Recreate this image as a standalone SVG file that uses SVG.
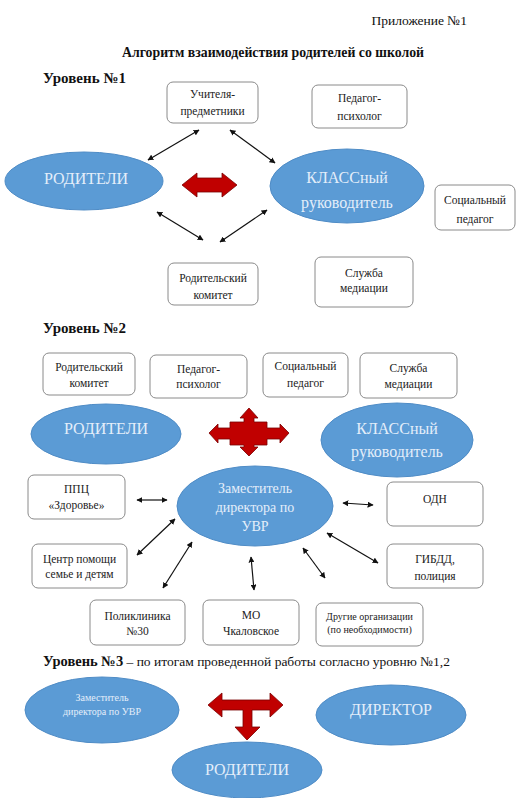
<svg xmlns="http://www.w3.org/2000/svg" width="516" height="798" viewBox="0 0 516 798">
<defs>
<marker id="ah" viewBox="0 0 10 10" refX="9" refY="5" markerWidth="6" markerHeight="6" orient="auto-start-reverse" markerUnits="userSpaceOnUse">
<path d="M0,0 L10,5 L0,10 z" fill="#111"/>
</marker>
</defs>
<style>
text{font-family:"Liberation Serif","DejaVu Serif","Times New Roman",serif;}
.box rect{fill:#fff;stroke:#8a8a8a;stroke-width:1;}
.box text{font-size:11.5px;fill:#222;text-anchor:middle;}
.ell ellipse{fill:#5b9bd5;stroke:#4f8cc6;stroke-width:1;}
.ell text{fill:#e4eefa;text-anchor:middle;}
.conn line{stroke:#111;stroke-width:1.2;marker-start:url(#ah);marker-end:url(#ah);}
.red{fill:#c00000;stroke:#7a0000;stroke-width:0.8;}
.hdr{font-size:15px;font-weight:bold;fill:#111;}
</style>
<rect width="516" height="798" fill="#fff"/>

<text x="467" y="25" font-size="13.5" text-anchor="end" fill="#111">Приложение №1</text>
<text x="273" y="57" font-size="13.8" font-weight="bold" text-anchor="middle" fill="#111">Алгоритм взаимодействия родителей со школой</text>

<!-- Level 1 -->
<text class="hdr" x="43" y="83">Уровень №1</text>
<g id="l1-uchitelya" class="box"><rect x="167" y="82" width="91" height="41" rx="6"/><text x="212.5" y="98">Учителя-</text><text x="212.5" y="115">предметники</text></g>
<g id="l1-psiholog" class="box"><rect x="312" y="85" width="95" height="43" rx="6"/><text x="359.5" y="102">Педагог-</text><text x="359.5" y="120">психолог</text></g>
<g id="l1-socped" class="box"><rect x="435" y="185" width="80" height="45" rx="6"/><text x="475" y="204">Социальный</text><text x="475" y="223">педагог</text></g>
<g id="l1-rodkom" class="box"><rect x="168" y="263" width="90" height="42" rx="6"/><text x="213" y="282">Родительский</text><text x="213" y="299">комитет</text></g>
<g id="l1-mediacia" class="box"><rect x="315" y="257" width="98" height="50" rx="6"/><text x="364" y="277">Служба</text><text x="364" y="292">медиации</text></g>
<g id="l1-roditeli" class="ell"><ellipse cx="84" cy="181" rx="79" ry="29"/><text x="86" y="184" font-size="16">РОДИТЕЛИ</text></g>
<g id="l1-klass" class="ell"><ellipse cx="347" cy="186" rx="77" ry="37"/><text x="347" y="183" font-size="16">КЛАССный</text><text x="347" y="208" font-size="16">руководитель</text></g>
<g id="l1-redarrow"><polygon class="red" points="182,185 197,173 197,178 222,178 222,173 237,185 222,197 222,192 197,192 197,197"/></g>

<!-- Level 2 -->
<text class="hdr" x="43" y="333">Уровень №2</text>
<g id="l2-rodkom" class="box"><rect x="43" y="353" width="92" height="42" rx="6"/><text x="89" y="371">Родительский</text><text x="89" y="387">комитет</text></g>
<g id="l2-psiholog" class="box"><rect x="150" y="355" width="97" height="43" rx="6"/><text x="198.5" y="373">Педагог-</text><text x="198.5" y="388">психолог</text></g>
<g id="l2-socped" class="box"><rect x="263" y="353" width="85" height="44" rx="6"/><text x="305.5" y="370">Социальный</text><text x="305.5" y="387">педагог</text></g>
<g id="l2-mediacia" class="box"><rect x="360" y="353" width="97" height="45" rx="6"/><text x="408.5" y="372">Служба</text><text x="408.5" y="388">медиации</text></g>
<g id="l2-roditeli" class="ell"><ellipse cx="106" cy="434" rx="75" ry="30"/><text x="106" y="434" font-size="16">РОДИТЕЛИ</text></g>
<g id="l2-klass" class="ell"><ellipse cx="397" cy="440" rx="76" ry="37"/><text x="397" y="434" font-size="16">КЛАССный</text><text x="397" y="457" font-size="16">руководитель</text></g>
<g id="l2-redarrow"><polygon class="red" points="209,433 218,424 218,428 230,428 230,422 244,422 244,418 240,418 249,408 258,418 254,418 254,422 267,422 267,428 280,428 280,424 289,433 280,443 280,439 267,439 267,445 254,445 254,447 258,447 249,456 240,447 244,447 244,445 230,445 230,439 218,439 218,443"/></g>
<g id="l2-zam" class="ell"><ellipse cx="255" cy="506" rx="78" ry="40"/><text x="255" y="493" font-size="14">Заместитель</text><text x="255" y="512" font-size="14">директора по</text><text x="255" y="531" font-size="14">УВР</text></g>
<g id="l2-ppc" class="box"><rect x="28" y="475" width="97" height="44" rx="6"/><text x="76.5" y="493">ППЦ</text><text x="76.5" y="509">«Здоровье»</text></g>
<g id="l2-odn" class="box"><rect x="387" y="482" width="96" height="44" rx="6"/><text x="435" y="503">ОДН</text></g>
<g id="l2-centr" class="box"><rect x="32" y="544" width="95" height="44" rx="6"/><text x="79.5" y="563">Центр помощи</text><text x="79.5" y="578">семье и детям</text></g>
<g id="l2-gibdd" class="box"><rect x="387" y="544" width="96" height="44" rx="6"/><text x="435" y="563">ГИБДД,</text><text x="435" y="580">полиция</text></g>
<g id="l2-poliklinika" class="box"><rect x="90" y="600" width="95" height="45" rx="6"/><text x="137.5" y="620">Поликлиника</text><text x="137.5" y="635">№30</text></g>
<g id="l2-mo" class="box"><rect x="203" y="600" width="96" height="45" rx="6"/><text x="251" y="619">МО</text><text x="251" y="635">Чкаловское</text></g>
<g id="l2-drugie" class="box"><rect x="316" y="603" width="107" height="43" rx="6"/><text x="369.5" y="620" style="font-size:10px">Другие организации</text><text x="369.5" y="633" style="font-size:10px">(по необходимости)</text></g>

<!-- Level 3 -->
<text x="43" y="666" font-size="13.5" fill="#111"><tspan font-weight="bold" font-size="14.5">Уровень №3</tspan> – по итогам проведенной работы согласно уровню №1,2</text>
<g id="l3-zam" class="ell"><ellipse cx="102" cy="710" rx="77" ry="33"/><text x="102" y="701" font-size="10">Заместитель</text><text x="102" y="715" font-size="10">директора по УВР</text></g>
<g id="l3-direktor" class="ell"><ellipse cx="391" cy="715" rx="75" ry="30"/><text x="391" y="715" font-size="16">ДИРЕКТОР</text></g>
<g id="l3-roditeli" class="ell"><ellipse cx="247" cy="770" rx="75" ry="28"/><text x="247" y="775" font-size="16">РОДИТЕЛИ</text></g>
<g id="l3-redarrow"><polygon class="red" points="208,705 222,693 222,700 243,700 252,700 270,700 270,693 283,705 270,717 270,710 252,710 252,727 260,727 247,740 235,727 243,727 243,710 222,710 222,717"/></g>

<!-- connectors -->
<g id="connectors" class="conn">
<line x1="199" y1="130" x2="148" y2="160"/>
<line x1="230" y1="130" x2="275" y2="163"/>
<line x1="157" y1="212" x2="203" y2="240"/>
<line x1="267" y1="210" x2="220" y2="242"/>
<line x1="137" y1="500" x2="167" y2="500"/>
<line x1="343" y1="503" x2="373" y2="505"/>
<line x1="175" y1="519" x2="137" y2="555"/>
<line x1="327" y1="533" x2="378" y2="563"/>
<line x1="192" y1="542" x2="163" y2="588"/>
<line x1="251" y1="557" x2="254" y2="590"/>
<line x1="303" y1="548" x2="325" y2="578"/>
</g>
</svg>
